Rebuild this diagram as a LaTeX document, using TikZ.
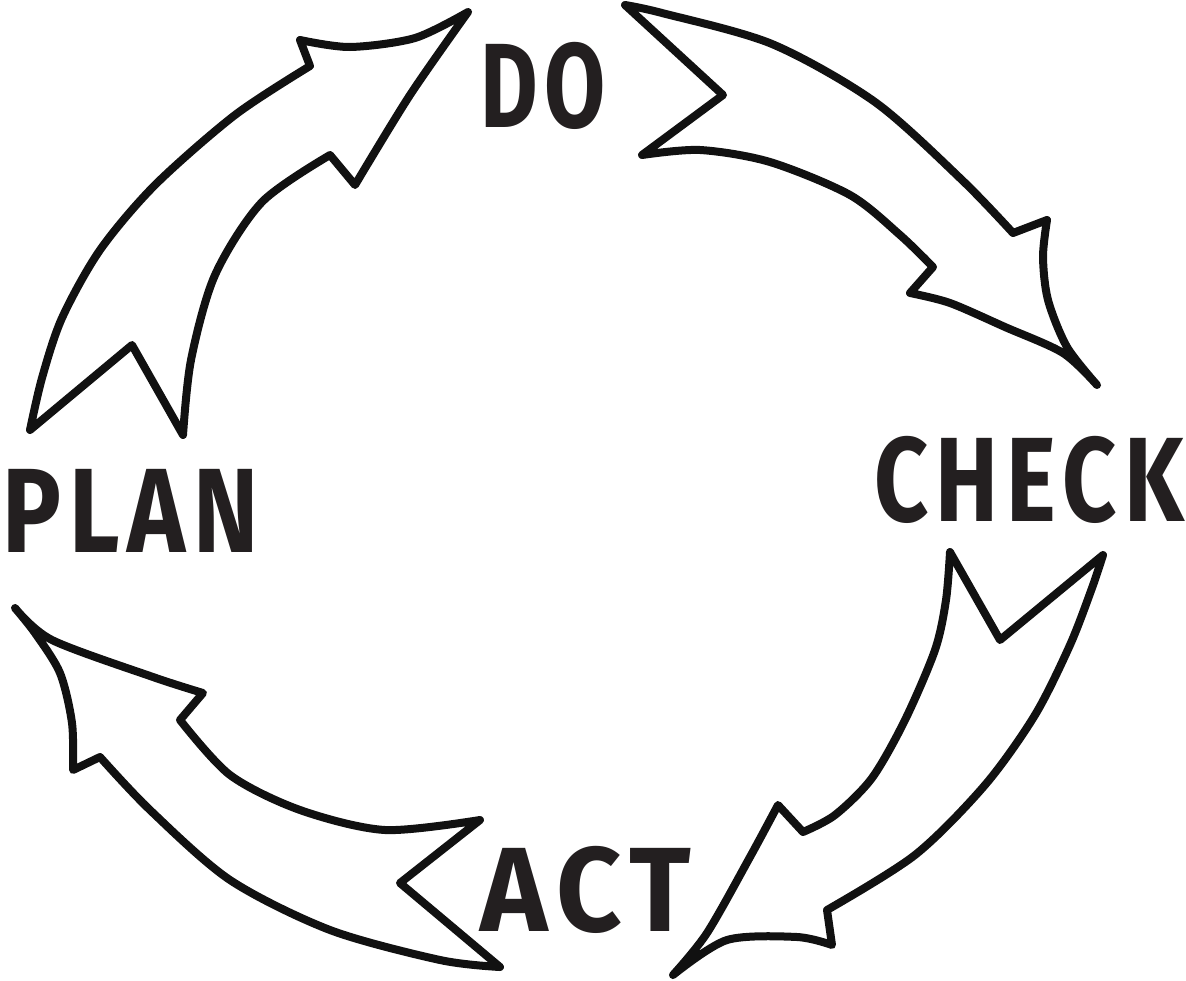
\documentclass[tikz,border=0pt]{standalone}
\usepackage{fontspec}
\setmainfont{Fira Sans}
\usepackage{xcolor}
\usepackage{tikz}
\usetikzlibrary{positioning}
\definecolor{cInk}{HTML}{111111}
\definecolor{cWord}{HTML}{231F20}
\tikzset{
  outl/.style = {draw=cInk, line width=8pt, line join=round, line cap=round},
  word/.style = {font=\fontsize{120}{120}\selectfont\bfseries\addfontfeatures{LetterSpace=8},
                 text=cWord, inner sep=0pt, xscale=0.82, transform shape},
}

\begin{document}
\begin{tikzpicture}[x=1pt, y=-1pt]
  \useasboundingbox (0,0) rectangle (1186,980);

  % ---- LABELS ----
  \node[word, xscale=0.9]  (do)    at (543,86)  {DO};
  \node[word, xscale=0.96] (check) at (1029,480) {CHECK};
  \node[word, xscale=1.16] (act)   at (586,890) {ACT};
  \node[word]              (plan)  at (131,511) {PLAN};

  % ---- PLAN -> DO ----
  \draw[outl] (30,430) -- (132,345) -- (183,435)
    -- plot[smooth] coordinates {(183,435) (191,360) (215,275) (262,202) (330,155)}
    -- (355,185)
    -- plot[smooth] coordinates {(355,185) (410,95) (468,12)}
    -- plot[smooth] coordinates {(468,12) (415,38) (350,47) (300,40)}
    -- (310,66)
    -- plot[smooth] coordinates {(310,66) (235,115) (155,185) (100,250) (62,318) (42,378) (30,430)}
    -- cycle;

  % ---- DO -> CHECK ----
  \draw[outl] (625,5) -- (723,95) -- (642,155)
    -- plot[smooth] coordinates {(642,155) (700,150) (770,162) (850,195) (900,235) (933,267)}
    -- (910,293)
    -- plot[smooth] coordinates {(910,293) (950,303) (1005,327) (1063,353) (1097,385)}
    -- plot[smooth] coordinates {(1097,385) (1067,347) (1048,300) (1043,257) (1047,220)}
    -- (1013,233)
    -- plot[smooth] coordinates {(1013,233) (962,180) (875,102) (772,44) (662,13) (625,5)}
    -- cycle;

  % ---- CHECK -> ACT ----
  \draw[outl] (950,552) -- (1000,640) -- (1103,555)
    -- plot[smooth] coordinates {(1103,555) (1092,588) (1070,645) (1035,715) (985,785) (915,855) (827,910)}
    -- (832,945)
    -- plot[smooth] coordinates {(832,945) (797,937) (727,940) (673,975)}
    -- plot[smooth] coordinates {(673,975) (707,933) (750,857) (778,805)}
    -- (803,832)
    -- plot[smooth] coordinates {(803,832) (835,815) (872,778) (905,720) (935,650) (946,600) (950,552)}
    -- cycle;

  % ---- ACT -> PLAN ----
  \draw[outl] (480,820) -- (400,883) -- (500,967)
    -- plot[smooth] coordinates {(500,967) (440,960) (330,930) (230,880) (150,810) (100,757)}
    -- (73,770)
    -- plot[smooth] coordinates {(73,770) (72,723) (60,673) (35,633) (15,608)}
    -- plot[smooth] coordinates {(15,608) (52,640) (153,677) (203,693)}
    -- (180,720)
    -- plot[smooth] coordinates {(180,720) (230,775) (300,810) (385,830) (480,820)}
    -- cycle;
\end{tikzpicture}
\end{document}
